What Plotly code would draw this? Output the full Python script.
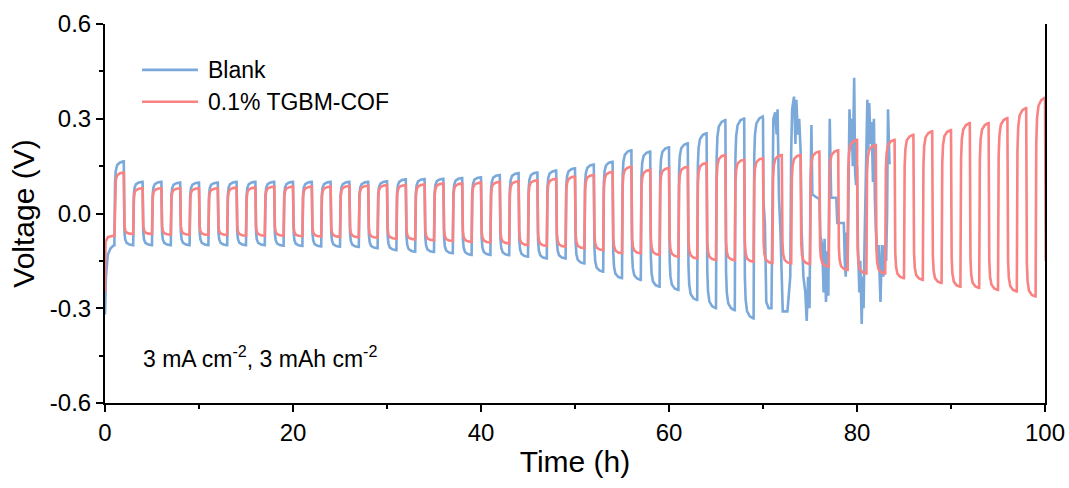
import plotly.graph_objects as go

# ---------------- data ----------------
# Each cycle k: negative half [2k, 2k+1] h, positive half [2k+1, 2k+2] h
red_neg = [-0.075, -0.065, -0.065, -0.067, -0.067, -0.068, -0.068, -0.070, -0.070, -0.070,
           -0.072, -0.073, -0.074, -0.075, -0.077, -0.080, -0.082, -0.085, -0.087, -0.090,
           -0.092, -0.095, -0.100, -0.103, -0.105, -0.110, -0.116, -0.126, -0.126, -0.131,
           -0.137, -0.142, -0.147, -0.148, -0.153, -0.157, -0.158, -0.160, -0.168, -0.179,
           -0.190, -0.190, -0.205, -0.210, -0.220, -0.232, -0.236, -0.242, -0.247, -0.263]
red_pos = [0.130, 0.080, 0.080, 0.080, 0.080, 0.080, 0.082, 0.082, 0.085, 0.085,
           0.085, 0.085, 0.087, 0.088, 0.090, 0.090, 0.092, 0.095, 0.095, 0.098,
           0.100, 0.102, 0.105, 0.110, 0.117, 0.122, 0.132, 0.148, 0.138, 0.144,
           0.148, 0.160, 0.185, 0.170, 0.175, 0.185, 0.185, 0.196, 0.200, 0.233,
           0.217, 0.233, 0.249, 0.260, 0.264, 0.286, 0.286, 0.302, 0.334, 0.366]
red_init_t = [0.0, 0.05, 0.3, 0.95]
red_init_v = [-0.25, -0.09, -0.075, -0.07]
red_final_t = [100.0, 100.08]
red_final_v = [0.366, -0.15]

blue_neg = [-0.100, -0.100, -0.100, -0.100, -0.100, -0.100, -0.100, -0.100, -0.100, -0.102,
            -0.103, -0.104, -0.105, -0.106, -0.110, -0.116, -0.121, -0.122, -0.126, -0.131,
            -0.131, -0.132, -0.137, -0.142, -0.142, -0.158, -0.184, -0.205, -0.210, -0.232,
            -0.242, -0.274, -0.300, -0.306, -0.332]
blue_pos = [0.165, 0.100, 0.100, 0.098, 0.098, 0.098, 0.100, 0.100, 0.100, 0.100,
            0.100, 0.100, 0.100, 0.100, 0.102, 0.108, 0.109, 0.110, 0.112, 0.115,
            0.122, 0.128, 0.130, 0.136, 0.143, 0.155, 0.164, 0.200, 0.196, 0.210,
            0.222, 0.254, 0.296, 0.301, 0.307]
blue_init_t = [0.0, 0.1, 0.3, 0.6, 0.95]
blue_init_v = [-0.32, -0.20, -0.13, -0.11, -0.10]
# irregular part of the Blank cell (70 h - 83.6 h)
blue_chaos_t = [70.0, 70.05, 70.2, 70.35, 70.6, 70.9, 71.0, 71.1, 71.3, 71.45, 71.55, 71.6,
                71.7, 71.85, 71.95, 72.1, 72.6, 72.9, 73.0, 73.1, 73.3, 73.45, 73.55, 73.7,
                73.85, 74.0, 74.1, 74.3, 74.5, 74.65, 74.8, 74.95, 75.05, 75.15, 75.25, 76.0,
                76.1, 76.3, 76.45, 76.55, 76.7, 76.85, 76.95, 77.1, 77.25, 77.8, 77.9, 78.6,
                78.7, 78.8, 78.9, 79.0, 79.2, 79.35, 79.45, 79.55, 79.7, 79.8, 79.9, 80.0,
                80.1, 80.25, 80.35, 80.5, 80.6, 80.7, 80.8, 80.95, 81.1, 81.2, 81.3, 81.45,
                81.55, 81.7, 81.8, 81.9, 82.0, 82.15, 82.3, 82.5, 82.65, 82.8, 82.95, 83.1,
                83.2, 83.3, 83.45, 83.6]
blue_chaos_v = [0.30, 0.04, -0.03, -0.28, -0.30, -0.30, 0.00, 0.30, 0.32, 0.25, 0.33, 0.20,
                0.05, -0.05, -0.18, -0.31, -0.31, -0.20, 0.20, 0.33, 0.37, 0.22, 0.36, 0.25,
                0.30, 0.20, -0.05, -0.20, -0.25, -0.34, -0.20, -0.30, 0.05, 0.28, 0.06, 0.045,
                -0.07, -0.10, -0.25, -0.08, -0.28, -0.12, -0.26, 0.30, 0.05, 0.05, -0.03, -0.03,
                -0.15, -0.20, -0.06, -0.18, 0.33, 0.20, 0.30, 0.15, 0.43, 0.13, 0.09, 0.15,
                -0.10, -0.25, -0.15, -0.35, -0.20, -0.30, -0.10, 0.10, 0.36, 0.20, 0.35, 0.22,
                0.29, 0.10, 0.30, 0.05, -0.05, -0.12, -0.10, -0.28, -0.10, -0.20, -0.10, -0.15,
                0.00, 0.33, 0.16, 0.16]

series_names = ["Blank", "0.1% TGBM-COF"]
x_tick_vals = [0, 20, 40, 60, 80, 100]
x_tick_text = ["0", "20", "40", "60", "80", "100"]
y_tick_vals = [-0.6, -0.3, 0.0, 0.3, 0.6]
y_tick_text = ["-0.6", "-0.3", "0.0", "0.3", "0.6"]

# ---------------- drawing helpers (shape of one half cycle) ----------------
PROF_DT = [0.07, 0.15, 0.3, 0.6, 0.97]
PROF_F = [0.6, 0.82, 0.93, 0.98, 1.0]


def build(neg, pos, init_t, init_v):
    t = list(init_t)
    v = list(init_v)
    prev = neg[0]
    halves = []
    for k in range(len(pos)):
        if k > 0:
            halves.append((2 * k, neg[k]))
        halves.append((2 * k + 1, pos[k]))
    for t0, P in halves:
        t.append(t0)
        v.append(prev)
        for dt, f in zip(PROF_DT, PROF_F):
            t.append(t0 + dt)
            v.append(f * P)
        prev = P
    return t, v


bt, bv = build(blue_neg, blue_pos, blue_init_t, blue_init_v)
bt += blue_chaos_t
bv += blue_chaos_v
rt, rv = build(red_neg, red_pos, red_init_t, red_init_v)
rt += red_final_t
rv += red_final_v

BLUE = "#7BA9DA"
RED = "#F98282"
COLORS = [BLUE, RED]
FONT = "Arial, Liberation Sans, sans-serif"

fig = go.Figure()
fig.add_trace(go.Scatter(x=bt, y=bv, mode="lines", name=series_names[0],
                         line=dict(color=BLUE, width=2.6), showlegend=False))
fig.add_trace(go.Scatter(x=rt, y=rv, mode="lines", name=series_names[1],
                         line=dict(color=RED, width=2.6), showlegend=False))

# legend drawn as line samples + labels (paper coordinates)
legend_y = [0.879, 0.795]
for name, col, ly in zip(series_names, COLORS, legend_y):
    fig.add_shape(type="line", xref="paper", yref="paper", x0=0.0394, x1=0.0989, y0=ly, y1=ly,
                  line=dict(color=col, width=2.6))
    fig.add_annotation(x=0.1075, y=ly, xref="paper", yref="paper", xanchor="left",
                       yanchor="middle", text=name, showarrow=False,
                       font=dict(family=FONT, size=23, color="black"))

fig.add_annotation(x=0.038, y=0.122, xref="paper", yref="paper", xanchor="left", yanchor="middle",
                   text="3 mA cm<sup>-2</sup>, 3 mAh cm<sup>-2</sup>", showarrow=False,
                   font=dict(family=FONT, size=23, color="black"))

fig.update_layout(
    width=1069, height=488,
    margin=dict(l=105, r=24, t=24, b=85, autoexpand=False),
    paper_bgcolor="white", plot_bgcolor="white",
    font=dict(family=FONT, color="black"),
    showlegend=False,
)
fig.update_xaxes(range=[0, 100], tickvals=x_tick_vals, ticktext=x_tick_text, automargin=False,
                 showline=True, linecolor="black", linewidth=2, mirror=False,
                 ticks="outside", ticklen=7, tickwidth=2, tickcolor="black",
                 minor=dict(dtick=10, ticks="outside", ticklen=4, tickwidth=2, tickcolor="black"),
                 showgrid=False, zeroline=False,
                 tickfont=dict(family=FONT, size=24),
                 title=dict(text="Time (h)", font=dict(family=FONT, size=30), standoff=6))
fig.update_yaxes(range=[-0.6, 0.6], tickvals=y_tick_vals, ticktext=y_tick_text, automargin=False,
                 showline=True, linecolor="black", linewidth=2, mirror=True,
                 ticks="outside", ticklen=7, tickwidth=2, tickcolor="black",
                 minor=dict(tickvals=[-0.45, -0.15, 0.15, 0.45], ticks="outside", ticklen=4,
                            tickwidth=2, tickcolor="black"),
                 showgrid=False, zeroline=False,
                 tickfont=dict(family=FONT, size=24),
                 title=dict(text="Voltage (V)", font=dict(family=FONT, size=30), standoff=6))

fig.write_html("out.html")
